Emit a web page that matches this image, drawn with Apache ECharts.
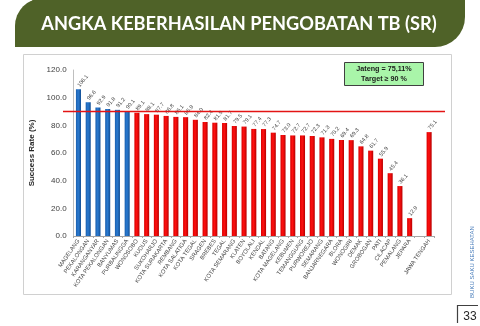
<!DOCTYPE html>
<html>
<head>
<meta charset="utf-8">
<script src="https://cdn.jsdelivr.net/npm/echarts@6/dist/echarts.min.js"></script>
<style>
  html, body { margin: 0; padding: 0; background: #ffffff; }
  #chart { width: 480px; height: 326px; }
</style>
</head>
<body>
<div id="chart"></div>
<script>
// Kabupaten / kota, ordered by treatment success rate
const categories = [
  'MAGELANG', 'PEKALONGAN', 'KARANGANYAR', 'KOTA PEKALONGAN', 'BANYUMAS', 'PURBALINGGA',
  'WONOSOBO', 'KUDUS', 'SUKOHARJO', 'KOTA SURAKARTA', 'REMBANG', 'KOTA SALATIGA',
  'KOTA TEGAL', 'SRAGEN', 'BREBES', 'TEGAL', 'KOTA SEMARANG', 'KLATEN', 'BOYOLALI',
  'KENDAL', 'BATANG', 'KOTA MAGELANG', 'KEBUMEN', 'TEMANGGUNG', 'PURWOREJO', 'SEMARANG',
  'BANJARNEGARA', 'BLORA', 'WONOGIRI', 'DEMAK', 'GROBOGAN', 'PATI', 'CILACAP',
  'PEMALANG', 'JEPARA', '', 'JAWA TENGAH'
];

// Success rate (%) per region; the blank slot separates the province total
const successRate = [
  106.1, 96.6, 92.9, 91.8, 91.2, 90.1,
  89.1, 88.1, 87.7, 86.8, 86.1, 85.9,
  84.0, 82.4, 81.9, 81.7, 79.5, 79.1, 77.4,
  77.3, 74.7, 73.0, 72.7, 72.7, 72.3, 71.3,
  70.2, 69.4, 69.3, 64.8, 61.7, 55.9, 45.4,
  36.1, 12.9, null, 75.1
];

// Regions reaching the target are drawn in blue
const targetReached = [
  true, true, true, true, true, true
];

const targetValue = 90;
const yTicks = [0, 20, 40, 60, 80, 100, 120];

const titleText = 'ANGKA KEBERHASILAN PENGOBATAN TB (SR)';
const noteLines = ['Jateng = 75,11%', 'Target ≥ 90 %'];
const sideText = 'BUKU SAKU KESEHATAN';
const pageNumber = '33';

const blueFill = {
  type: 'linear', x: 0, y: 0, x2: 1, y2: 0,
  colorStops: [
    { offset: 0, color: '#1a5fae' },
    { offset: 0.45, color: '#2a7ad0' },
    { offset: 1, color: '#124e94' }
  ]
};
const redFill = {
  type: 'linear', x: 0, y: 0, x2: 1, y2: 0,
  colorStops: [
    { offset: 0, color: '#d80000' },
    { offset: 0.45, color: '#ff1010' },
    { offset: 1, color: '#b80000' }
  ]
};

const barData = successRate.map((v, i) => ({
  value: v,
  itemStyle: { color: targetReached[i] ? blueFill : redFill }
}));

const chart = echarts.init(document.getElementById('chart'), null, { renderer: 'canvas' });

const gridTop = 70;
const gridBottom = 90;

chart.setOption({
  animation: false,
  backgroundColor: '#ffffff',
  grid: [
    { left: 73.6, right: 46, top: gridTop, bottom: gridBottom },
    { left: 63, right: 35, top: gridTop, bottom: gridBottom }
  ],
  xAxis: [
    {
      type: 'category',
      gridIndex: 0,
      data: categories,
      axisLine: { lineStyle: { color: '#a6a6a6', width: 1 } },
      axisTick: { show: true, length: 2, lineStyle: { color: '#a6a6a6' } },
      axisLabel: {
        interval: 0,
        rotate: 55,
        fontSize: 5.8,
        color: '#404040',
        fontFamily: 'Liberation Sans, Arial, sans-serif',
        margin: 4
      }
    },
    {
      type: 'value',
      gridIndex: 1,
      min: 0,
      max: 1,
      show: false
    }
  ],
  yAxis: [
    {
      type: 'value',
      gridIndex: 0,
      min: 0,
      max: 120,
      interval: 20,
      name: 'Success Rate (%)',
      nameLocation: 'middle',
      nameRotate: 90,
      nameGap: 29,
      nameTextStyle: {
        fontSize: 8,
        fontWeight: 'bold',
        color: '#262626',
        fontFamily: 'Liberation Sans, Arial, sans-serif'
      },
      axisLine: { show: true, lineStyle: { color: '#bfbfbf' } },
      axisTick: { show: false },
      splitLine: { show: false },
      axisLabel: {
        fontSize: 8,
        color: '#404040',
        margin: 7,
        fontFamily: 'Liberation Sans, Arial, sans-serif',
        formatter: v => (yTicks.includes(v) ? v.toFixed(1) : '')
      }
    },
    {
      type: 'value',
      gridIndex: 1,
      min: 0,
      max: 120,
      show: false
    }
  ],
  series: [
    {
      type: 'bar',
      xAxisIndex: 0,
      yAxisIndex: 0,
      data: barData,
      barWidth: '52%',
      label: {
        show: true,
        position: 'top',
        distance: 3,
        rotate: 50,
        align: 'left',
        verticalAlign: 'middle',
        fontSize: 5.5,
        color: '#404040',
        fontFamily: 'Liberation Sans, Arial, sans-serif',
        formatter: p => (p.value == null ? '' : Number(p.value).toFixed(1))
      }
    },
    {
      type: 'line',
      xAxisIndex: 1,
      yAxisIndex: 1,
      data: [[0, targetValue], [1, targetValue]],
      symbol: 'none',
      silent: true,
      lineStyle: { color: '#e31414', width: 1.5 },
      z: 5
    }
  ],
  graphic: [
    // chart frame
    {
      type: 'rect',
      shape: { x: 23.5, y: 54.5, width: 428, height: 240 },
      style: { fill: 'none', stroke: '#d0d0d0', lineWidth: 1 },
      z: -1
    },
    // title banner
    {
      type: 'rect',
      shape: { x: 15, y: -2, width: 450, height: 49, r: [28, 0, 30, 0] },
      style: { fill: '#4f6228' },
      z: 10
    },
    {
      type: 'text',
      x: 239,
      y: 24,
      style: {
        text: titleText,
        fill: '#ffffff',
        font: 'bold 18.2px Lato, "Open Sans", sans-serif',
        textAlign: 'center',
        textVerticalAlign: 'middle'
      },
      z: 11
    },
    // note box
    {
      type: 'rect',
      shape: { x: 344.5, y: 62.5, width: 79, height: 23 },
      style: { fill: '#a9f5a9', stroke: '#404040', lineWidth: 1 },
      z: 10
    },
    {
      type: 'text',
      x: 384,
      y: 69,
      style: {
        text: noteLines[0],
        fill: '#1a1a1a',
        font: 'bold 7.2px "Liberation Sans", Arial, sans-serif',
        textAlign: 'center',
        textVerticalAlign: 'middle'
      },
      z: 11
    },
    {
      type: 'text',
      x: 384,
      y: 79,
      style: {
        text: noteLines[1],
        fill: '#1a1a1a',
        font: 'bold 7.2px "Liberation Sans", Arial, sans-serif',
        textAlign: 'center',
        textVerticalAlign: 'middle'
      },
      z: 11
    },
    // side caption
    {
      type: 'text',
      x: 472,
      y: 262,
      rotation: Math.PI / 2,
      style: {
        text: sideText,
        fill: '#4a7ebb',
        font: '6px "Liberation Sans", Arial, sans-serif',
        textAlign: 'center',
        textVerticalAlign: 'middle'
      }
    },
    // page number with bracket
    {
      type: 'polyline',
      shape: { points: [[457.5, 323], [457.5, 305.5], [478, 305.5]] },
      style: { stroke: '#404040', lineWidth: 1.2, fill: 'none' }
    },
    {
      type: 'text',
      x: 470,
      y: 317,
      style: {
        text: pageNumber,
        fill: '#262626',
        font: '12px "Liberation Sans", Arial, sans-serif',
        textAlign: 'center',
        textVerticalAlign: 'middle'
      }
    }
  ]
});
</script>
</body>
</html>
